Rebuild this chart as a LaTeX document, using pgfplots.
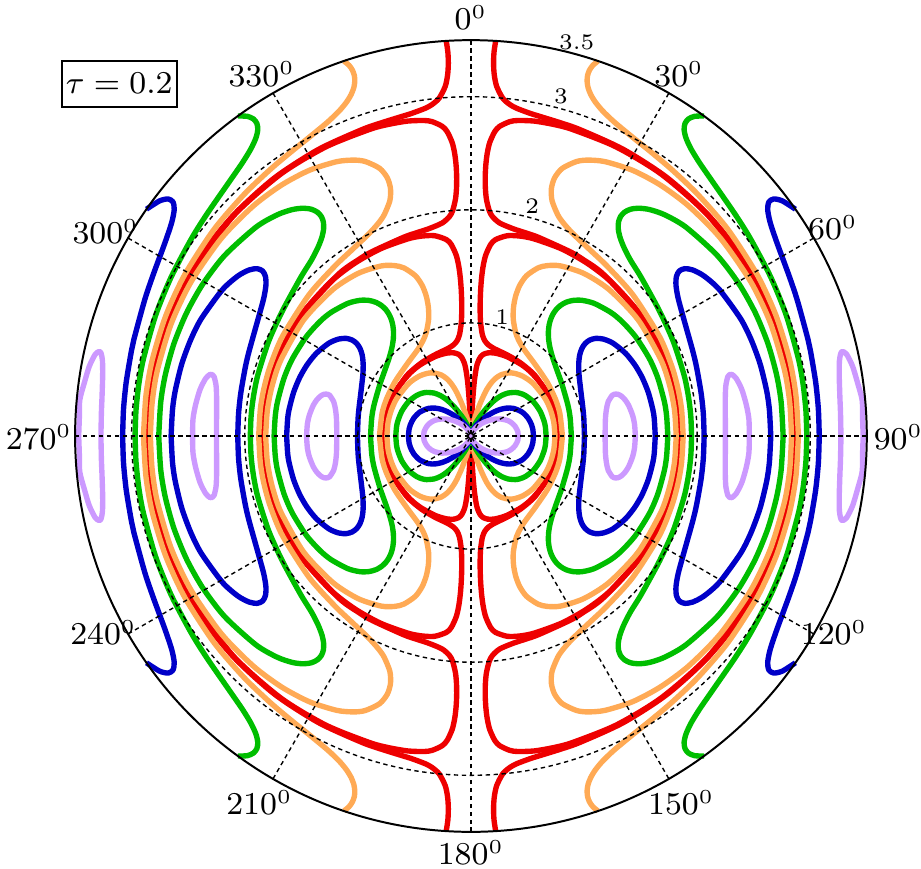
\documentclass[border=0pt]{standalone}
\usepackage{pgfplots}
\usepackage{pgfplotstable}
\pgfplotsset{compat=1.18}
\definecolor{cR}{RGB}{238,0,0}
\definecolor{cO}{RGB}{255,170,85}
\definecolor{cG}{RGB}{0,190,0}
\definecolor{cB}{RGB}{0,0,200}
\definecolor{cP}{RGB}{204,153,255}
% ---------- first-quadrant contour data (mirrored to the other quadrants) ----------
% region 0 (lobes through the origin)
\pgfplotstableread{
x y
0 0
0.0011 0.0500
0.0031 0.1000
0.0083 0.1998
0.0145 0.2996
0.0219 0.3994
0.0315 0.4990
0.0466 0.5982
0.0593 0.6473
0.0818 0.6952
0.1094 0.7218
0.1492 0.7350
0.1924 0.7352
0.2335 0.7285
0.3165 0.7019
0.4443 0.6326
0.5385 0.5560
0.6546 0.4143
0.7390 0.2338
0.7655 0.1212
0.7751 0
}\Ra
\pgfplotstableread{
x y
0 0
0.0062 0.0496
0.0173 0.0985
0.0311 0.1467
0.0467 0.1945
0.0818 0.2887
0.1233 0.3805
0.1481 0.4249
0.1774 0.4675
0.2139 0.5067
0.2623 0.5397
0.3335 0.5579
0.3858 0.5539
0.4601 0.5276
0.5504 0.4642
0.6559 0.3317
0.7046 0.2263
0.7326 0.1211
0.7433 0
}\Oa
\pgfplotstableread{
x y
0 0
0.0041 0.0247
0.0114 0.0487
0.0318 0.0948
0.0571 0.1387
0.0857 0.1807
0.1167 0.2211
0.1501 0.2598
0.1863 0.2963
0.2263 0.3298
0.2718 0.3586
0.3257 0.3794
0.3925 0.3853
0.4334 0.3779
0.4814 0.3582
0.5525 0.3027
0.6122 0.2186
0.6470 0.1303
0.6584 0.0782
0.6645 0
}\Ga
\pgfplotstableread{
x y
0 0
0.0014 0.0099
0.0057 0.0244
0.0159 0.0474
0.0443 0.0897
0.0795 0.1272
0.1192 0.1606
0.1624 0.1900
0.2089 0.2153
0.2593 0.2351
0.3150 0.2466
0.3784 0.2436
0.4533 0.2109
0.5064 0.1565
0.5360 0.0989
0.5464 0.0632
0.5532 0
}\Ba
\pgfplotstableread{
x y
0 0
0.0018 0.0098
0.0070 0.0240
0.0197 0.0460
0.0550 0.0835
0.0987 0.1130
0.1480 0.1345
0.2016 0.1479
0.2592 0.1510
0.3218 0.1378
0.3623 0.1146
0.3909 0.0849
0.4057 0.0588
0.4148 0.0373
0.4183 0
}\Pa
% region 1
\pgfplotstableread{
x y
0.7777 0
0.7659 0.1350
0.7309 0.2661
0.7037 0.3318
0.5698 0.5312
0.4397 0.6455
0.3276 0.7134
0.2638 0.7447
0.2037 0.7736
0.1542 0.8054
0.1234 0.8410
0.1015 0.8943
0.0858 0.9963
0.0814 1.0970
0.0820 1.1972
0.0861 1.2971
0.0939 1.3968
0.1069 1.4962
0.1290 1.5948
0.1727 1.6912
0.2173 1.7365
0.3218 1.7710
0.4336 1.7676
0.5581 1.7429
0.8012 1.6543
1.0291 1.5265
1.2485 1.3551
1.5111 1.0558
1.7149 0.6775
1.7813 0.4773
1.8262 0.2566
1.8441 0
}\Rb
\pgfplotstableread{
x y
0.8089 0
0.7862 0.1992
0.7478 0.3241
0.6754 0.4737
0.5671 0.6332
0.4665 0.7697
0.4194 0.8524
0.3941 0.9191
0.3740 1.0344
0.3765 1.1394
0.3955 1.2384
0.4315 1.3318
0.4913 1.4172
0.5928 1.4861
0.6732 1.5064
0.7932 1.5037
0.9984 1.4373
1.2211 1.2951
1.4785 1.0265
1.6813 0.6704
1.7600 0.4348
1.8002 0.2259
1.8148 0
}\Ob
\pgfplotstableread{
x y
0.8880 0
0.8768 0.1640
0.8561 0.2778
0.8060 0.4539
0.7698 0.5568
0.7232 0.6906
0.6980 0.7844
0.6864 0.8596
0.6847 0.9239
0.6910 0.9810
0.7048 1.0324
0.7258 1.0785
0.7544 1.1196
0.7920 1.1544
0.8400 1.1819
0.9017 1.1987
0.9816 1.1995
1.0880 1.1731
1.2355 1.0937
1.3335 1.0137
1.4558 0.8778
1.5793 0.6815
1.6526 0.5117
1.7102 0.3038
1.7303 0.1740
1.7403 0
}\Gb
\pgfplotstableread{
x y
1.0037 0
0.9980 0.1551
0.9899 0.2458
0.9716 0.3982
0.9554 0.5451
0.9530 0.6437
0.9619 0.7174
0.9810 0.7747
1.0102 0.8182
1.0502 0.8483
1.1024 0.8630
1.1693 0.8574
1.2552 0.8214
1.3664 0.7318
1.4498 0.6280
1.5144 0.5165
1.5686 0.3842
1.6080 0.2344
1.6205 0.1553
1.6297 0
}\Bb
\pgfplotstableread{
x y
1.1864 0
1.1872 0.0816
1.1894 0.1588
1.1974 0.2337
1.2131 0.3015
1.2492 0.3600
1.2672 0.3693
1.2986 0.3692
1.3288 0.3535
1.3632 0.3192
1.3939 0.2713
1.4277 0.1877
1.4458 0.1095
1.4540 0
}\Pb
% region 2
\pgfplotstableread{
x y
1.8466 0
1.8185 0.3207
1.7322 0.6397
1.5432 1.0149
1.1814 1.4210
0.9922 1.5602
0.8721 1.6315
0.5977 1.7561
0.4840 1.7960
0.3738 1.8322
0.2543 1.8830
0.1895 1.9408
0.1614 1.9935
0.1365 2.0956
0.1274 2.1963
0.1263 2.2965
0.1315 2.3964
0.1434 2.4959
0.1659 2.5947
0.2108 2.6918
0.2543 2.7382
0.3422 2.7791
0.4138 2.7895
0.5596 2.7844
0.7270 2.7557
0.8956 2.7108
1.2833 2.5560
1.6826 2.3153
2.1031 1.9428
2.4798 1.4318
2.6911 0.9795
2.8203 0.4973
2.8638 0
}\Rc
\pgfplotstableread{
x y
1.8765 0
1.8624 0.2337
1.8333 0.4071
1.7781 0.6103
1.6663 0.8813
1.4309 1.2500
1.2028 1.5030
1.0663 1.6327
0.9084 1.7818
0.8210 1.8784
0.7680 1.9545
0.7172 2.0799
0.7112 2.1873
0.7397 2.2831
0.8070 2.3662
0.9334 2.4267
1.0356 2.4393
1.1858 2.4257
1.4308 2.3485
1.6752 2.2185
1.9255 2.0328
2.2053 1.7496
2.4738 1.3642
2.6497 0.9942
2.7738 0.5765
2.8193 0.2890
2.8342 0
}\Oc
\pgfplotstableread{
x y
1.9508 0
1.9451 0.1573
1.9334 0.2760
1.9147 0.3974
1.8824 0.5461
1.7886 0.8374
1.6674 1.1046
1.5068 1.3990
1.4095 1.5567
1.3500 1.6734
1.3161 1.7629
1.3023 1.8349
1.3051 1.8938
1.3235 1.9418
1.3577 1.9790
1.4090 2.0043
1.4812 2.0140
1.5793 2.0020
1.7131 1.9558
1.9005 1.8468
2.1767 1.5975
2.3705 1.3440
2.5145 1.0884
2.6263 0.8159
2.7022 0.5421
2.7424 0.3020
2.7603 0
}\Gc
\pgfplotstableread{
x y
2.0617 0
2.0547 0.1957
2.0352 0.3782
1.9958 0.6032
1.9618 0.7490
1.8789 1.0451
1.8319 1.2181
1.8128 1.3329
1.8168 1.4106
1.8422 1.4591
1.8898 1.4794
1.9615 1.4680
2.0616 1.4142
2.1982 1.2926
2.3846 1.0364
2.4780 0.8506
2.5572 0.6357
2.6148 0.3985
2.6387 0.2323
2.6510 0
}\Bc
\pgfplotstableread{
x y
2.2498 0
2.2495 0.1056
2.2485 0.2283
2.2494 0.3726
2.2547 0.4542
2.2706 0.5230
2.2863 0.5431
2.3067 0.5446
2.3453 0.5090
2.3948 0.4117
2.4343 0.2771
2.4575 0.1495
2.4611 0
}\Pc
% region 3 (up to the rim)
\pgfplotstableread{
x y
2.8660 0
2.8225 0.4977
2.6932 0.9802
2.3947 1.5757
2.0984 1.9536
1.7349 2.2838
1.3483 2.5336
0.9660 2.7080
0.7927 2.7689
0.6182 2.8232
0.5252 2.8521
0.4060 2.8967
0.3452 2.9298
0.2811 2.9868
0.2272 3.0917
0.2061 3.1934
0.2000 3.2939
0.2040 3.3939
0.2186 3.4932
}\Rd
\pgfplotstableread{
x y
2.8953 0
2.8732 0.3605
2.8167 0.6776
2.6975 1.0648
2.5314 1.4249
2.2734 1.8246
2.0080 2.1336
1.7730 2.3579
1.5785 2.5219
1.4443 2.6294
1.2711 2.7725
1.1665 2.8721
1.1003 2.9516
1.0589 3.0198
1.0355 3.0807
1.0270 3.1361
1.0311 3.1875
1.0479 3.2344
1.0778 3.2775
1.1228 3.3149
}\Od
\pgfplotstableread{
x y
2.9694 0
2.9617 0.2222
2.9373 0.4526
2.8968 0.6771
2.7884 1.0654
2.6508 1.4049
2.4702 1.7463
2.3329 1.9648
2.1409 2.2419
2.0195 2.4176
1.9437 2.5421
1.9009 2.6361
1.8847 2.7090
1.8928 2.7641
1.9234 2.8036
1.9782 2.8266
2.0608 2.8290
}\Gd
\pgfplotstableread{
x y
3.0795 0
3.0718 0.2366
3.0477 0.4779
3.0016 0.7543
2.9800 0.8541
2.8860 1.1985
2.8110 1.4216
2.7053 1.7091
2.6458 1.8873
2.6235 2.0015
2.6344 2.0693
2.6772 2.0958
2.7534 2.0786
2.8686 2.0055
}\Bd
\pgfplotstableread{
x y
3.2715 0
3.2673 0.2095
3.2620 0.3424
3.2561 0.5363
3.2579 0.6643
3.2696 0.7300
3.2861 0.7475
3.3225 0.7211
3.3743 0.6164
3.4175 0.4730
3.4585 0.3190
3.4622 0.1664
3.4682 0
}\Pd
\newcommand{\fourplot}[2]{%
  \addplot[color=#1] table[x=x,y=y] {#2};
  \addplot[color=#1] table[x expr=-\thisrow{x},y=y] {#2};
  \addplot[color=#1] table[x=x,y expr=-\thisrow{y}] {#2};
  \addplot[color=#1] table[x expr=-\thisrow{x},y expr=-\thisrow{y}] {#2};
}
\tikzset{gridline/.style={black, line width=0.35pt, dash pattern=on 1.1pt off 0.9pt}}
\begin{document}
\begin{tikzpicture}
\useasboundingbox (-4.164,-3.82) rectangle (3.979,3.855);
\begin{axis}[at={(0,0)}, anchor=origin, x=1cm, y=1cm,
  xmin=-3.6, xmax=3.6, ymin=-3.6, ymax=3.6, hide axis, clip=false,
  every axis plot/.append style={line width=1.35pt, smooth, tension=0.45, line cap=butt, line join=round, mark=none}]
% red
\fourplot{cR}{\Ra}\fourplot{cR}{\Rb}\fourplot{cR}{\Rc}\fourplot{cR}{\Rd}
% orange
\fourplot{cO}{\Oa}\fourplot{cO}{\Ob}\fourplot{cO}{\Oc}\fourplot{cO}{\Od}
% green
\fourplot{cG}{\Ga}\fourplot{cG}{\Gb}\fourplot{cG}{\Gc}\fourplot{cG}{\Gd}
% blue
\fourplot{cB}{\Ba}\fourplot{cB}{\Bb}\fourplot{cB}{\Bc}\fourplot{cB}{\Bd}
% purple
\fourplot{cP}{\Pa}\fourplot{cP}{\Pb}\fourplot{cP}{\Pc}\fourplot{cP}{\Pd}
% grid
\draw[gridline] (axis cs:0,0) circle[radius=1];
\draw[gridline] (axis cs:0,0) circle[radius=2];
\draw[gridline] (axis cs:0,0) circle[radius=3];
\draw[gridline] (axis cs:0,-3.5) -- (axis cs:0,3.5);
\draw[gridline] (axis cs:-3.5,0) -- (axis cs:3.5,0);
\draw[gridline] (axis cs:-1.75,-3.0311) -- (axis cs:1.75,3.0311);
\draw[gridline] (axis cs:-3.0311,-1.75) -- (axis cs:3.0311,1.75);
\draw[gridline] (axis cs:-3.0311,1.75) -- (axis cs:3.0311,-1.75);
\draw[gridline] (axis cs:-1.75,3.0311) -- (axis cs:1.75,-3.0311);
\draw[black, line width=0.5pt] (axis cs:0,0) circle[radius=3.5];
% angle labels
\begin{scope}[every node/.style={font=\fontsize{7.8}{9}\selectfont, inner sep=0pt}]
\node at (axis cs:0,3.70) {$0^0$};
\node at (axis cs:1.84,3.20) {$30^0$};
\node at (axis cs:3.20,1.84) {$60^0$};
\node at (axis cs:3.78,-0.01) {$90^0$};
\node at (axis cs:3.21,-1.74) {$120^0$};
\node at (axis cs:1.86,-3.24) {$150^0$};
\node at (axis cs:0,-3.68) {$180^0$};
\node at (axis cs:-1.87,-3.24) {$210^0$};
\node at (axis cs:-3.25,-1.74) {$240^0$};
\node at (axis cs:-3.82,-0.01) {$270^0$};
\node at (axis cs:-3.23,1.81) {$300^0$};
\node at (axis cs:-1.85,3.20) {$330^0$};
\end{scope}
% radial labels
\begin{scope}[every node/.style={font=\fontsize{5.6}{7}\selectfont, inner sep=0pt}]
\node at (axis cs:0.277,1.055) {1};
\node at (axis cs:0.542,2.036) {2};
\node at (axis cs:0.796,3.004) {3};
\node at (axis cs:0.935,3.484) {3.5};
\end{scope}
\node[draw=black, line width=0.5pt, inner sep=0pt, minimum width=1.017cm, minimum height=0.407cm,
  font=\fontsize{8.5}{10}\selectfont] at (axis cs:-3.11,3.115) {$\tau = 0.2$};
\end{axis}
\end{tikzpicture}
\end{document}
